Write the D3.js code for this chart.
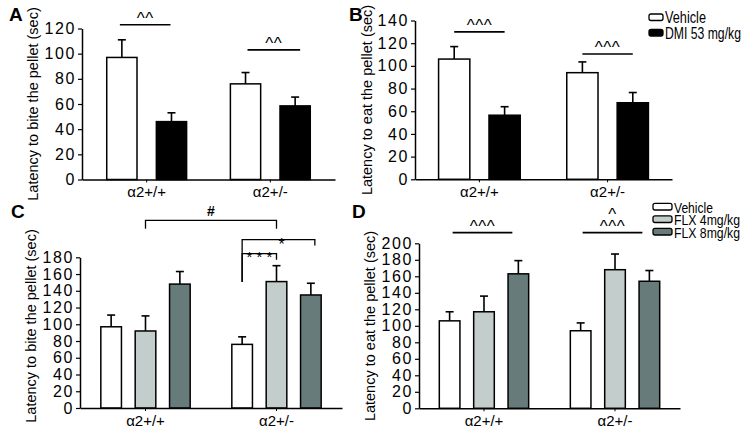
<!DOCTYPE html>
<html><head><meta charset="utf-8">
<script src="https://cdn.jsdelivr.net/npm/d3@7"></script>
<style>body{margin:0;background:#fff}svg{display:block}</style>
</head><body><svg id="c" width="751" height="432"></svg>
<script>
// ---------- data ----------
const groups = ["α2+/+", "α2+/-"];
const seriesAB = ["Vehicle", "DMI 53 mg/kg"];
const seriesCD = ["Vehicle", "FLX 4mg/kg", "FLX 8mg/kg"];
const colorsAB = ["#ffffff", "#000000"];
const colorsCD = ["#ffffff", "#c3cdcb", "#687b7b"];
// [series][group]
const meanA = [[97, 76], [46, 58.5]];
const semA  = [[14, 9], [7, 7]];
const meanB = [[106, 94], [56.5, 67.5]];
const semB  = [[11, 9.5], [7.5, 9]];
const meanC = [[97, 76], [92, 151], [148, 135]];
const semC  = [[14, 9], [18, 19], [15, 14]];
const meanD = [[106, 94], [117, 168], [163, 154]];
const semD  = [[11, 9.5], [19, 19], [16, 13]];
const ticksA = [0, 20, 40, 60, 80, 100, 120];
const ticksB = [0, 20, 40, 60, 80, 100, 120, 140];
const ticksC = [0, 20, 40, 60, 80, 100, 120, 140, 160, 180];
const ticksD = [0, 20, 40, 60, 80, 100, 120, 140, 160, 180, 200];
const labelBite = "Latency to bite the pellet (sec)";
const labelEat = "Latency to eat the pellet (sec)";

const FONT = "Arial, 'Liberation Sans', Helvetica, sans-serif";
const svg = d3.select("#c").style("font-family", FONT);

function panel(cfg) {
  const g = svg.append("g");
  const y = d3.scaleLinear().domain([0, d3.max(cfg.ticks)]).range([cfg.y0, cfg.yTop]);
  const x0 = d3.scaleBand().domain(groups).range(cfg.xRange).paddingInner(cfg.pi).paddingOuter(cfg.po);
  const x1 = d3.scaleBand().domain(cfg.series).range([0, x0.bandwidth()]).paddingInner(cfg.pii).paddingOuter(0);
  const cxOf = (si, gi) => x0(groups[gi]) + x1(cfg.series[si]) + x1.bandwidth() / 2;

  cfg.series.forEach((s, si) => groups.forEach((gr, gi) => {
    const m = cfg.mean[si][gi], e = cfg.sem[si][gi];
    const bx = x0(gr) + x1(s), cx = cxOf(si, gi);
    g.append("line").attr("x1", cx).attr("x2", cx).attr("y1", y(m)).attr("y2", y(m + e))
      .attr("stroke", "#000").attr("stroke-width", 1.6);
    g.append("line").attr("x1", cx - 4).attr("x2", cx + 4).attr("y1", y(m + e)).attr("y2", y(m + e))
      .attr("stroke", "#000").attr("stroke-width", 1.6);
    g.append("rect").attr("x", bx).attr("width", x1.bandwidth())
      .attr("y", y(m)).attr("height", y(0) - y(m))
      .attr("fill", cfg.colors[si]).attr("stroke", "#000").attr("stroke-width", 1.5);
  }));

  // y axis
  const ya = g.append("g").attr("transform", `translate(${cfg.xRange[0]},0)`)
    .call(d3.axisLeft(y).tickValues(cfg.ticks).tickSize(4).tickSizeOuter(0).tickPadding(2));
  ya.select(".domain").attr("stroke-width", 1.5);
  ya.selectAll(".tick line").attr("stroke-width", 1.2);
  ya.selectAll("text").attr("font-size", 16).attr("font-family", FONT).attr("letter-spacing", 1.6).attr("fill", "#000");

  // x axis
  const xa = g.append("g").attr("transform", `translate(0,${cfg.y0})`)
    .call(d3.axisBottom(x0).tickSize(3).tickSizeOuter(0).tickPadding(4));
  xa.select(".domain").attr("stroke-width", 1.5);
  xa.selectAll("text").attr("font-size", 15).attr("font-family", FONT).attr("fill", "#000");

  // y label
  g.append("text").attr("transform", `translate(${cfg.labelX},${cfg.labelY}) rotate(-90)`)
    .attr("text-anchor", "middle").attr("font-size", 14.5).text(cfg.yLabel);

  // panel letter
  g.append("text").attr("x", cfg.letterPos[0]).attr("y", cfg.letterPos[1])
    .attr("font-size", 19).attr("font-weight", "bold").text(cfg.letter);

  // significance lines
  (cfg.sig || []).forEach(s => {
    const xa1 = cxOf(s.from, s.g) + (s.dx1 || 0), xa2 = cxOf(s.to, s.g) + (s.dx2 || 0);
    const yy = y(s.at);
    g.append("line").attr("x1", xa1).attr("x2", xa2).attr("y1", yy).attr("y2", yy)
      .attr("stroke", "#000").attr("stroke-width", 1.6);
    s.texts.forEach((t, i) => {
      g.append("text").attr("x", (xa1 + xa2) / 2).attr("y", yy - 1 - i * 12)
        .attr("text-anchor", "middle").attr("font-size", 17).attr("letter-spacing", 0.5).text(t);
    });
  });
  // brackets
  (cfg.brackets || []).forEach(b => {
    const bx1 = cxOf(b.from[0], b.from[1]) + (b.dx1 || 0), bx2 = cxOf(b.to[0], b.to[1]) + (b.dx2 || 0);
    const yy = y(b.at);
    g.append("path").attr("d", `M${bx1},${y(b.leftEnd)}V${yy}H${bx2}V${y(b.rightEnd)}`)
      .attr("fill", "none").attr("stroke", "#000").attr("stroke-width", 1.3);
    g.append("text").attr("x", (bx1 + bx2) / 2 + (b.tdx || 0)).attr("y", yy + b.tdy)
      .attr("text-anchor", "middle").attr("font-size", b.fs).attr("font-weight", b.fw || "normal")
      .text(b.text);
  });

  // legend (text horizontally condensed to the reference's narrow face)
  if (cfg.legend) {
    const L = cfg.legend;
    cfg.series.forEach((s, si) => {
      g.append("rect").attr("x", L.x).attr("y", L.y + si * L.step).attr("width", L.w).attr("height", L.h)
        .attr("rx", 2).attr("fill", cfg.colors[si]).attr("stroke", "#000").attr("stroke-width", 1.3);
      const t = g.append("text").attr("font-size", L.fs).text(s);
      const natural = t.node().getComputedTextLength();
      const k = L.len[si] / natural;
      t.attr("transform", `translate(${L.x + L.w + 2},${L.y + si * L.step + L.h + 2.5}) scale(${k},1)`);
    });
  }
}

panel({
  letter: "A", letterPos: [9, 21], yLabel: labelBite, labelX: 38, labelY: 104,
  ticks: ticksA, y0: 179.5, yTop: 28.5, xRange: [82, 335], pi: 0.354, po: 0.2, pii: 0.39,
  series: seriesAB, colors: colorsAB, mean: meanA, sem: semA,
  sig: [{ g: 0, from: 0, to: 1, at: 123, texts: ["^^"], dx1: -2, dx2: -1 },
        { g: 1, from: 0, to: 1, at: 103, texts: ["^^"], dx1: 2, dx2: 5 }]
});
panel({
  letter: "B", letterPos: [349, 21], yLabel: labelEat, labelX: 372, labelY: 100,
  ticks: ticksB, y0: 179.3, yTop: 20.5, xRange: [415, 672], pi: 0.363, po: 0.184, pii: 0.38,
  series: seriesAB, colors: colorsAB, mean: meanB, sem: semB,
  sig: [{ g: 0, from: 0, to: 1, at: 130, texts: ["^^^"] },
        { g: 1, from: 0, to: 1, at: 110.5, texts: ["^^^"] }],
  legend: { x: 649, y: 14, step: 15.5, w: 14, h: 6.5, fs: 16, len: [41, 76] }
});
panel({
  letter: "C", letterPos: [11, 218], yLabel: labelBite, labelX: 36, labelY: 326,
  ticks: ticksC, y0: 408, yTop: 257.3, xRange: [80, 342], pi: 0.318, po: 0.159, pii: 0.4,
  series: seriesCD, colors: colorsCD, mean: meanC, sem: semC,
  brackets: [
    { from: [1, 0], to: [1, 1], at: 224, leftEnd: 214, rightEnd: 214, text: "#", fs: 14, fw: "bold", tdy: -4 },
    { from: [0, 1], to: [2, 1], at: 201, leftEnd: 150.5, rightEnd: 194, dx2: 4, text: "*", fs: 16, tdy: 10, tdx: 3 },
    { from: [0, 1], to: [1, 1], at: 184.4, leftEnd: 150.5, rightEnd: 177, text: "* * *", fs: 15, tdy: 8 }
  ]
});
panel({
  letter: "D", letterPos: [352, 218], yLabel: labelEat, labelX: 375, labelY: 326,
  ticks: ticksD, y0: 408.3, yTop: 243.3, xRange: [419, 680], pi: 0.318, po: 0.155, pii: 0.4,
  series: seriesCD, colors: colorsCD, mean: meanD, sem: semD,
  sig: [{ g: 0, from: 0, to: 2, at: 213, texts: ["^^^"], dx1: 3, dx2: -6 },
        { g: 1, from: 0, to: 2, at: 213, texts: ["^^^", "^"], dx1: 2, dx2: -7 }],
  legend: { x: 653, y: 203.3, step: 12.5, w: 19, h: 6.7, fs: 15, len: [39, 66, 66] }
});
</script>
</body></html>
